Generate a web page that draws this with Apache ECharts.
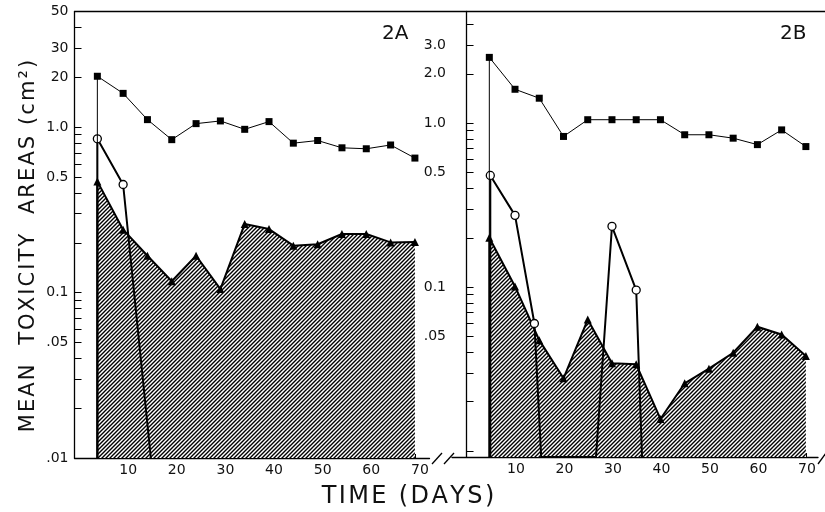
<!DOCTYPE html>
<html>
<head>
<meta charset="utf-8">
<title>Mean toxicity areas 2A / 2B</title>
<script src="https://cdn.jsdelivr.net/npm/echarts@6/dist/echarts.min.js"></script>
<style>
    html, body { margin: 0; padding: 0; background: #fff; }
    #chart { width: 825px; height: 512px; }
</style>
</head>
<body>
<div id="chart"></div>
<script>
    // sampling days (same for both panels)
    var days = [4.7, 10, 15, 20, 25, 30, 35, 40, 45, 50, 55, 60, 65, 70];

    // panel 2A
    var squaresA = [2.03, 1.60, 1.11, 0.84, 1.05, 1.09, 0.97, 1.08, 0.80, 0.83, 0.75, 0.74, 0.78, 0.65];
    var trianglesA = [0.47, 0.24, 0.167, 0.117, 0.167, 0.105, 0.26, 0.242, 0.192, 0.196, 0.226, 0.226, 0.201, 0.202];
    var circleDaysA = [4.7, 10, 15.7];
    var circlesA = [0.85, 0.45, 0.01];

    // panel 2B
    var squaresB = [2.52, 1.61, 1.42, 0.83, 1.05, 1.05, 1.05, 1.05, 0.85, 0.85, 0.81, 0.74, 0.91, 0.72];
    var trianglesB = [0.20, 0.101, 0.0475, 0.0278, 0.0634, 0.0343, 0.0338, 0.0157, 0.0259, 0.0318, 0.0398, 0.0573, 0.0514, 0.038];
    var circleDaysB = [4.9, 10, 14, 15.4, 26.7, 30, 35, 36.2];
    var circlesB = [0.48, 0.274, 0.060, 0.0092, 0.0092, 0.235, 0.096, 0.0092];

    // axes
    var rangeA = [0.01, 5];
    var rangeB = [0.0092, 4.8];
    var yTicks = [0.01, 0.02, 0.03, 0.04, 0.05, 0.06, 0.07, 0.08, 0.09,
                  0.1, 0.2, 0.3, 0.4, 0.5, 0.6, 0.7, 0.8, 0.9, 1, 2, 3, 4, 5];
    var yLabelValsA = [0.01, 0.05, 0.1, 0.5, 1, 2, 3, 5];
    var yLabelTextA = ['.01', '.05', '0.1', '0.5', '1.0', '20', '30', '50'];
    var yLabelValsB = [0.05, 0.1, 0.5, 1, 2, 3];
    var yLabelTextB = ['.05', '0.1', '0.5', '1.0', '2.0', '3.0'];
    var xTicks = [5, 10, 15, 20, 25, 30, 35, 40, 45, 50, 55, 60, 65, 70];
    var xLabels = [10, 20, 30, 40, 50, 60, 70];

    var FONT = 'DejaVu Sans';
    var INK = '#111';
    var HS = '\u200A'; // hair space, widens the lettering a little

    function lg(v) { return Math.log10(v); }
    function spaced(s) { return s.split('').join(HS); }

    function hatch() {
        var c = document.createElement('canvas');
        c.width = 4; c.height = 4;
        var g = c.getContext('2d');
        g.fillStyle = '#fff';
        g.fillRect(0, 0, 4, 4);
        g.strokeStyle = '#000';
        g.lineWidth = 1.4;
        g.beginPath();
        g.moveTo(-1, 5); g.lineTo(5, -1);
        g.moveTo(-1, 1); g.lineTo(1, -1);
        g.moveTo(3, 5); g.lineTo(5, 3);
        g.stroke();
        return c;
    }
    var pattern = {image: hatch(), repeat: 'repeat'};

    // each curve rises from the bottom of the axis at its first day
    function pts(xs, ys, floor) {
        var out = [{value: [xs[0], lg(floor)], symbol: 'none'}];
        for (var i = 0; i < xs.length; i++) {
            var item = {value: [xs[i], lg(ys[i])]};
            if (ys[i] <= floor * 1.01) item.symbol = 'none';
            out.push(item);
        }
        return out;
    }

    function xAxis(gi, min, max, pad) {
        return {
            type: 'value', gridIndex: gi, min: min, max: max,
            axisLine: {show: true, onZero: false, lineStyle: {color: '#000', width: 1.3}},
            axisTick: {show: true, inside: true, length: 4, customValues: xTicks, lineStyle: {color: '#000'}},
            axisLabel: {customValues: xLabels, fontFamily: FONT, fontSize: 14, color: INK, margin: 5,
                        padding: [0, 0, 0, pad]},
            splitLine: {show: false}
        };
    }

    function yAxis(gi, range, vals, texts) {
        return {
            type: 'value', gridIndex: gi, min: lg(range[0]), max: lg(range[1]),
            axisLine: {show: true, onZero: true, lineStyle: {color: '#000', width: 1.3}},
            axisTick: {show: true, inside: true, length: 7, customValues: yTicks.map(lg), lineStyle: {color: '#000'}},
            axisLabel: {
                customValues: vals.map(lg),
                fontFamily: FONT, fontSize: 14, color: INK, margin: 6,
                formatter: function (v) {
                    for (var i = 0; i < vals.length; i++) {
                        if (Math.abs(lg(vals[i]) - v) < 1e-6) return texts[i];
                    }
                    return '';
                }
            },
            splitLine: {show: false}
        };
    }

    function panel(gi, floor, sq, tri, cDays, cir) {
        return [
            {
                type: 'line', xAxisIndex: gi, yAxisIndex: gi,
                data: pts(days, tri, floor),
                symbol: 'triangle', symbolSize: 8,
                itemStyle: {color: '#000'},
                lineStyle: {color: '#000', width: 2},
                areaStyle: {color: pattern, opacity: 1, origin: 'start'},
                z: 2
            },
            {
                type: 'line', xAxisIndex: gi, yAxisIndex: gi,
                data: pts(cDays, cir, floor),
                symbol: 'circle', symbolSize: 8,
                itemStyle: {color: '#fff', borderColor: '#000', borderWidth: 1.3},
                lineStyle: {color: '#000', width: 2},
                z: 3
            },
            {
                type: 'line', xAxisIndex: gi, yAxisIndex: gi,
                data: pts(days, sq, floor),
                symbol: 'rect', symbolSize: 7,
                itemStyle: {color: '#000'},
                lineStyle: {color: '#000', width: 1},
                z: 4
            }
        ];
    }

    var chart = echarts.init(document.getElementById('chart'));

    var option = {
        backgroundColor: '#fff',
        animation: false,
        title: [
            {text: '2A', left: 377, top: 19, textStyle: {fontFamily: FONT, fontSize: 20, fontWeight: 'normal', color: INK}},
            {text: '2B', left: 775, top: 19, textStyle: {fontFamily: FONT, fontSize: 20, fontWeight: 'normal', color: INK}}
        ],
        grid: [
            {left: 74.5, top: 11.5, width: 355, height: 446.5},
            {left: 452, top: 11.5, width: 366, height: 445.5}
        ],
        xAxis: [xAxis(0, 0, 73, 10), xAxis(1, -3, 72.5, 2)],
        yAxis: [yAxis(0, rangeA, yLabelValsA, yLabelTextA), yAxis(1, rangeB, yLabelValsB, yLabelTextB)],
        series: panel(0, rangeA[0], squaresA, trianglesA, circleDaysA, circlesA)
            .concat(panel(1, rangeB[0], squaresB, trianglesB, circleDaysB, circlesB)),
        graphic: [
            {type: 'line', shape: {x1: 74.5, y1: 11.5, x2: 825, y2: 11.5}, style: {stroke: '#000', lineWidth: 1.3}},
            {type: 'line', shape: {x1: 432, y1: 464, x2: 442, y2: 453}, style: {stroke: '#000', lineWidth: 1.3}},
            {type: 'line', shape: {x1: 444, y1: 464, x2: 454, y2: 453}, style: {stroke: '#000', lineWidth: 1.3}},
            {type: 'line', shape: {x1: 818, y1: 464, x2: 826, y2: 453}, style: {stroke: '#000', lineWidth: 1.3}},
            {
                type: 'text', x: 29, y: 246, rotation: Math.PI / 2,
                style: {text: spaced('MEAN  TOXICITY  AREAS (cm²)'), fontFamily: FONT, fontSize: 21, fill: INK,
                        textAlign: 'center', textVerticalAlign: 'middle'}
            },
            {
                type: 'text', x: 408, y: 497,
                style: {text: spaced('TIME (DAYS)'), fontFamily: FONT, fontSize: 24, fill: INK,
                        textAlign: 'center', textVerticalAlign: 'middle'}
            }
        ]
    };
    chart.setOption(option);
</script>
</body>
</html>
